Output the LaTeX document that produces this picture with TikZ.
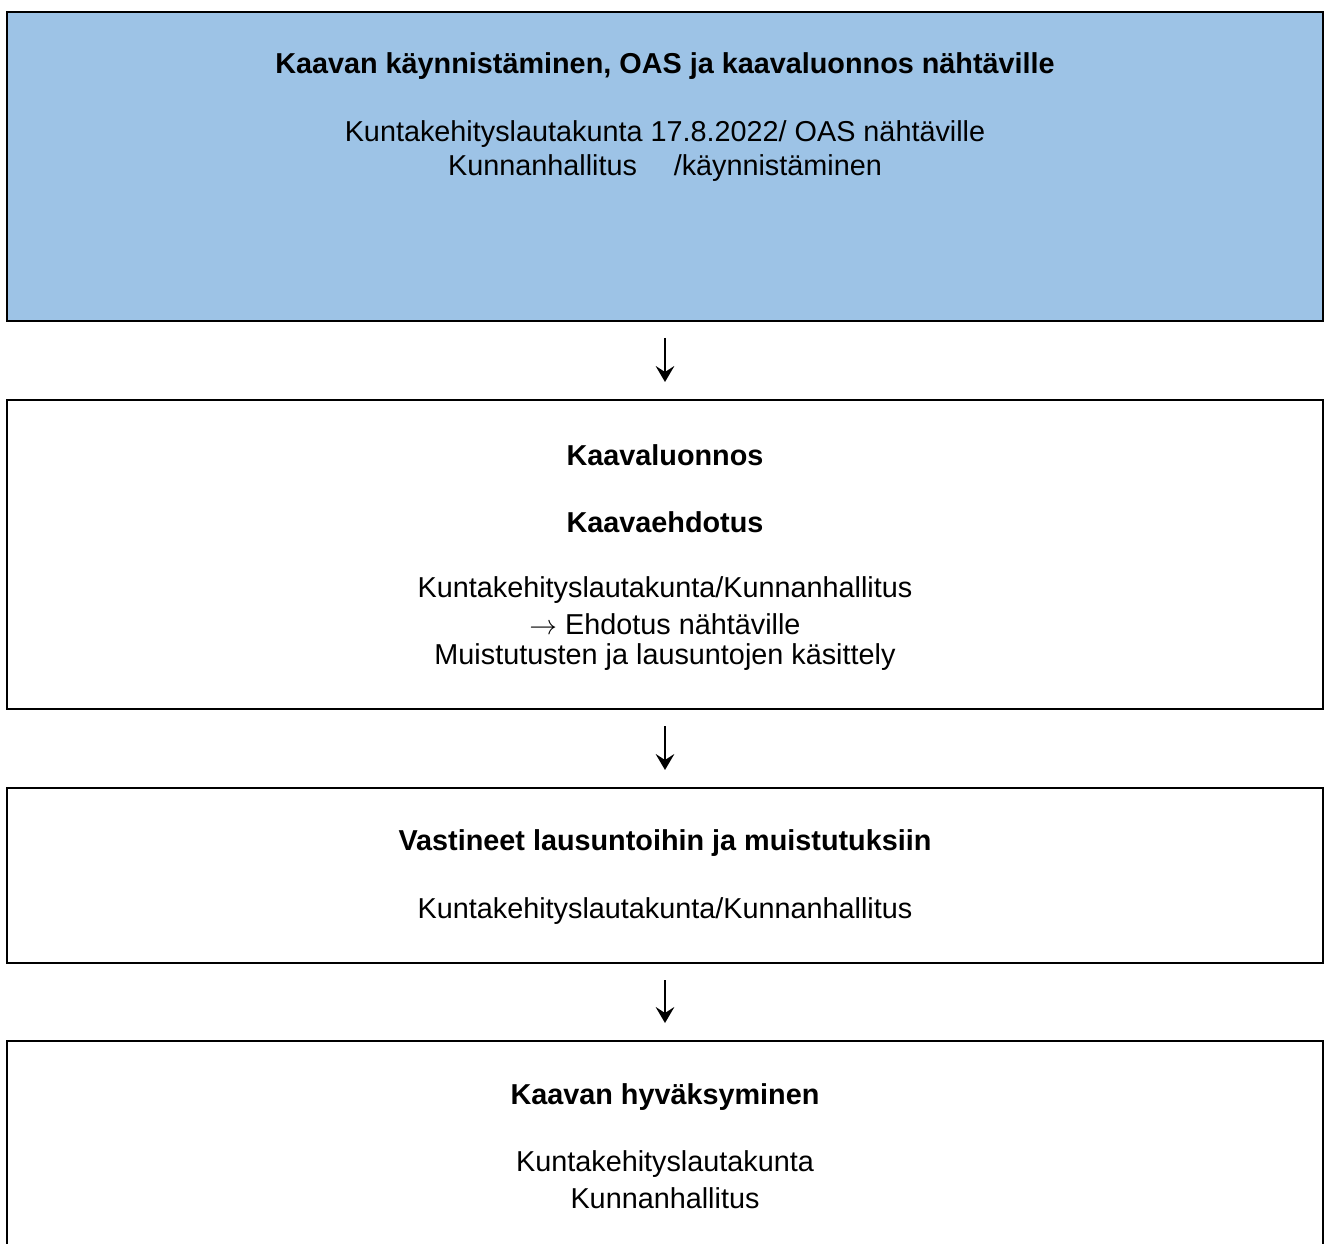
\documentclass[tikz,border=0pt]{standalone}
\usepackage{fontspec}
\setmainfont{Liberation Sans}
\usetikzlibrary{arrows.meta}
\definecolor{boxblue}{HTML}{9DC3E6}

\begin{document}
\begin{tikzpicture}[x=0.75pt, y=-0.75pt,
		box/.style={draw, line width=1.5pt, rectangle, inner sep=0pt},
		txt/.style={font=\fontsize{21.6}{25}\selectfont, inner sep=0pt},
		head/.style={txt, font=\fontsize{21.6}{25}\selectfont\bfseries},
		arr/.style={line width=1.4pt, -{Stealth[length=12pt, width=14pt, inset=4.5pt]}, shorten <=16pt*0.75, shorten >=17pt*0.75}]
		\useasboundingbox (0, 0) rectangle (1324, 1244);
		\begin{scope}
		\clip (0, 0) rectangle (1324, 1244);
		\node[box, fill=boxblue, minimum width=1316*0.75pt, minimum height=309*0.75pt] (b1) at (665, 166.5) {};
		\node[box, minimum width=1316*0.75pt, minimum height=309*0.75pt] (b2) at (665, 554.5) {};
		\node[box, minimum width=1316*0.75pt, minimum height=175*0.75pt] (b3) at (665, 875.5) {};
		\node[box, minimum width=1316*0.75pt, minimum height=300*0.75pt] (b4) at (665, 1191) {};
		\end{scope}
		\draw[arr] (b1.south) -- (b2.north);
		\draw[arr] (b2.south) -- (b3.north);
		\draw[arr] (b3.south) -- (b4.north);
		% box 1
		\node[head] (t1) at (665, 66) {Kaavan käynnistäminen, OAS ja kaavaluonnos nähtäville};
		\node[txt] (t1a) at (665, 134) {Kuntakehityslautakunta 17.8.2022/ OAS nähtäville};
		\node[txt] (t1b) at (665, 168) {Kunnanhallitus \quad/käynnistäminen};
		% box 2
		\node[head] (t2) at (665, 455) {Kaavaluonnos};
		\node[head] (t2a) at (665, 522) {Kaavaehdotus};
		\node[txt] (t2b) at (665, 590) {Kuntakehityslautakunta/Kunnanhallitus};
		\node[txt] (t2c) at (665, 624) {$\rightarrow$ Ehdotus nähtäville};
		\node[txt] (t2d) at (665, 657) {Muistutusten ja lausuntojen käsittely};
		% box 3
		\node[head] (t3) at (665, 843) {Vastineet lausuntoihin ja muistutuksiin};
		\node[txt] (t3a) at (665, 911) {Kuntakehityslautakunta/Kunnanhallitus};
		% box 4
		\node[head] (t4) at (665, 1097) {Kaavan hyväksyminen};
		\node[txt] (t4a) at (665, 1164) {Kuntakehityslautakunta};
		\node[txt] (t4b) at (665, 1198) {Kunnanhallitus};
	\end{tikzpicture}
\end{document}
